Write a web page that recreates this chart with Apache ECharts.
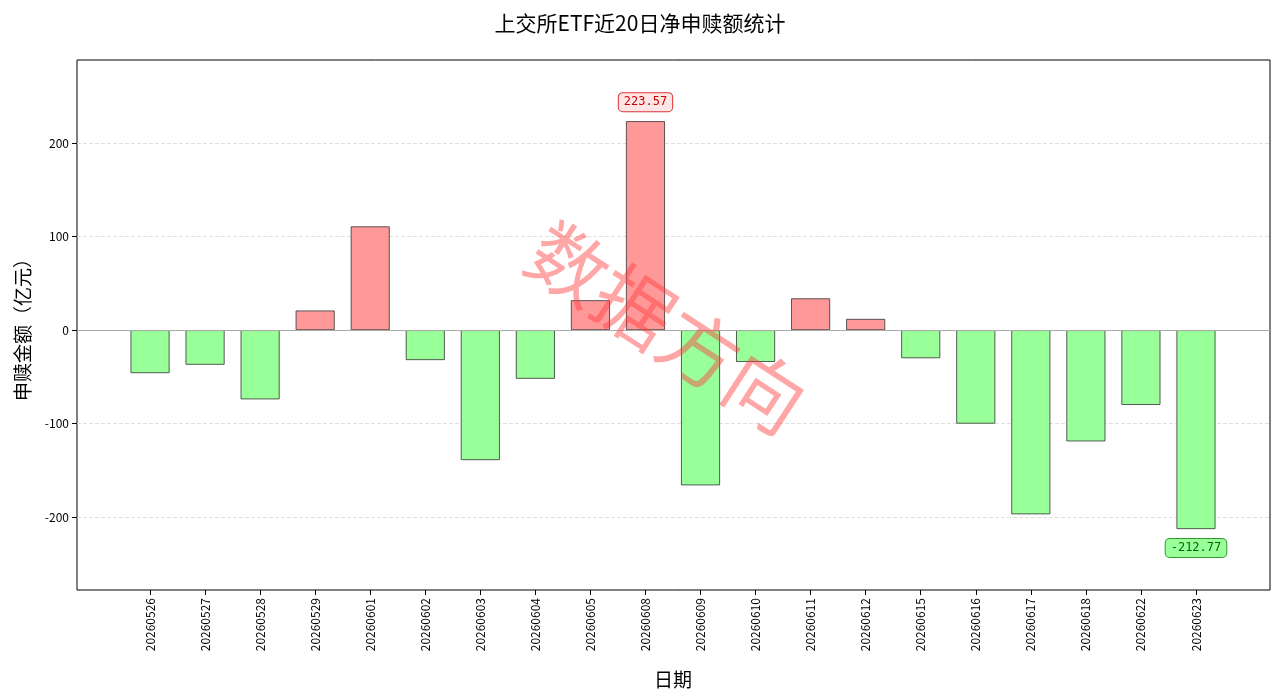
<!DOCTYPE html>
<html><head><meta charset="utf-8">
<script src="https://cdn.jsdelivr.net/npm/echarts@6/dist/echarts.min.js"></script>
<style>html,body{margin:0;padding:0;background:#fff}#c{width:1280px;height:696px}</style>
</head><body><div id="c"></div>
<script>
const dates = ['20260526','20260527','20260528','20260529','20260601','20260602','20260603','20260604','20260605','20260608','20260609','20260610','20260611','20260612','20260615','20260616','20260617','20260618','20260622','20260623'];
const values = [-46,-37,-74,21,111,-32,-139,-52,32,223.57,-166,-34,34,12,-30,-100,-197,-119,-80,-212.77];
const yTicks = [-200,-100,0,100,200];
const font = '"Noto Sans CJK SC", "DejaVu Sans", sans-serif';
const maxIdx = values.indexOf(Math.max(...values));
const minIdx = values.indexOf(Math.min(...values));
const data = values.map((v,i)=>{
  const pos = v>=0;
  const d = {value:v, itemStyle:{color: pos?'#ff9999':'#99ff99', borderColor:'#333', borderWidth:0.8}};
  if(i===maxIdx||i===minIdx){
    d.label={show:true, position: pos?'top':'bottom', distance:10, formatter: v.toFixed(2),
      fontFamily:'DejaVu Sans Mono, monospace', fontSize:12,
      color: pos?'#cc0000':'#006600',
      backgroundColor: pos?'#ffe6e6':'#99ff99',
      borderColor: pos?'#dd3333':'#339933', borderWidth:1, borderRadius:4, padding:[3,5]};
  }
  return d;
});
const chart = echarts.init(document.getElementById('c'));
chart.setOption({
  animation:false,
  title:{text:'上交所ETF近20日净申赎额统计', left:'center', top:8, textStyle:{fontFamily:font, fontSize:21, fontWeight:'normal', color:'#000'}},
  grid:[
    {left:77, right:10, top:60, bottom:106, show:true, borderColor:'#000', borderWidth:1},
    {left:122.5, right:56.5, top:60, bottom:106}
  ],
  xAxis:[
    {gridIndex:0, type:'value', min:0, max:1, show:false},
    {gridIndex:1, type:'category', data:dates, position:'bottom', axisLine:{show:false, onZero:false}, axisTick:{show:true, alignWithLabel:true, length:5, lineStyle:{color:'#000'}},
     axisLabel:{rotate:90, fontFamily:font, fontSize:12, color:'#000', margin:8},
     name:'日期', nameLocation:'middle', nameGap:80, nameTextStyle:{fontFamily:font, fontSize:19, color:'#000'}}
  ],
  yAxis:[
    {gridIndex:0, type:'value', min:-278, max:289, interval:100,
     axisLabel:{fontFamily:font, fontSize:12, color:'#000', customValues:yTicks},
     axisTick:{show:true, customValues:yTicks, length:5, lineStyle:{color:'#000'}},
     axisLine:{show:false},
     splitLine:{show:true, customValues:yTicks, lineStyle:{type:'dashed', color:'#e0e0e0'}},
     name:'申赎金额（亿元）', nameLocation:'middle', nameGap:45, nameTextStyle:{fontFamily:font, fontSize:19, color:'#000'}},
    {gridIndex:1, type:'value', min:-278, max:289, show:false}
  ],
  series:[
    {type:'line', xAxisIndex:0, yAxisIndex:0, data:[], 
     markLine:{silent:true, symbol:'none', label:{show:false}, lineStyle:{color:'#aaa', type:'solid', width:1}, data:[{yAxis:0}]}},
    {type:'bar', xAxisIndex:1, yAxisIndex:1, data:data, barWidth:39, z:3}
  ],
  graphic:[{type:'text', left:515, top:210, rotation:-Math.PI*33/180, originX:0, originY:0,
    style:{text:'数据方向', font:'78px "Noto Sans CJK SC"', fill:'rgba(255,60,60,0.45)'}, z:100}]
});
</script></body></html>
